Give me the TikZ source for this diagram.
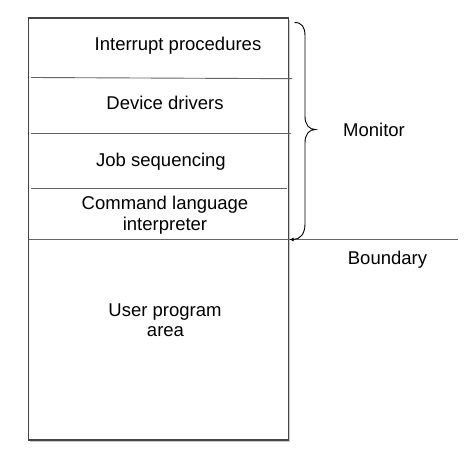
\documentclass[tikz,border=0pt]{standalone}
\usepackage{fontspec}
\setmainfont{Liberation Sans}
\usetikzlibrary{arrows.meta}
\definecolor{boxline}{HTML}{444444}
\definecolor{divline}{HTML}{666666}
\begin{document}
\begin{tikzpicture}[x=1pt,y=-1pt,
  lbl/.style={font=\fontsize{18.5}{21.5}\selectfont, anchor=base, inner sep=0pt, text=black, align=center},
  divider/.style={draw=divline, line width=0.9pt},
  bracestyle/.style={draw=black, line width=0.9pt}]
\useasboundingbox[fill=white] (0,0) rectangle (476,457);
% shadow
\fill[black!20] (30,20) rectangle (290,441.5);
\draw[boxline, line width=1.1pt, fill=white] (28.5,18) rectangle (288.5,440);
% dividers
\coordinate (d1l) at (31,77.5); \coordinate (d1r) at (292,78.7);
\coordinate (d2l) at (31,133); \coordinate (d2r) at (291,133);
\coordinate (d3l) at (31,188); \coordinate (d3r) at (287,188);
\coordinate (bl) at (29,239.7); \coordinate (br) at (458,239.7);
\draw[divider] (d1l) -- (d1r);
\draw[divider] (d2l) -- (d2r);
\draw[divider] (d3l) -- (d3r);
\draw[divider] (bl) -- (br);
% labels
\node[lbl] (ip) at (178,50.7) {Interrupt procedures};
\node[lbl] (dd) at (165,110) {Device drivers};
\node[lbl] (js) at (161,166.7) {Job sequencing};
\node[lbl] (cl) at (165,209) {Command language};
\node[lbl] (ci) at (165,230.7) {interpreter};
\node[lbl] (up) at (165,316.7) {User program};
\node[lbl] (ua) at (165.5,336.7) {area};
\node[lbl] (mon) at (374,136.7) {Monitor};
\node[lbl] (bd) at (387.5,264.3) {Boundary};
% brace
\coordinate (btop) at (294.5,22.5);
\coordinate (btip) at (315.5,129.5);
\coordinate (bend) at (289.5,239.5);
\draw[bracestyle, -{Latex[length=4pt,width=4pt]}]
  (btop) .. controls (302,22.5) and (305,27) .. (305,36)
  -- (305,116) .. controls (305,125) and (309,129.5) .. (btip)
  .. controls (309,129.5) and (305,134) .. (305,143)
  -- (305,224) .. controls (305,234) and (300,239.5) .. (bend);
\end{tikzpicture}
\end{document}
